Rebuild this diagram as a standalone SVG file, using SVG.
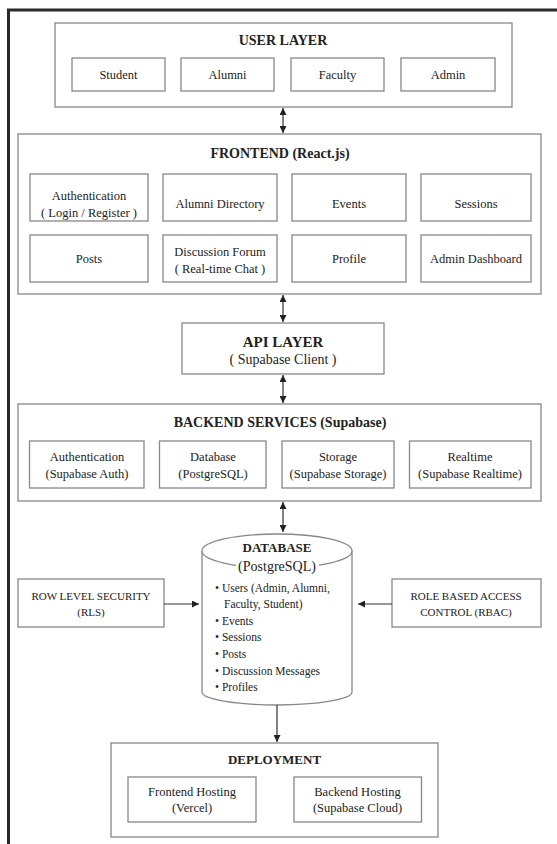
<svg xmlns="http://www.w3.org/2000/svg" width="557" height="844" viewBox="0 0 557 844">
<style>
text{font-family:"Liberation Serif","Times New Roman",serif;fill:#222;text-anchor:middle}
.t{font-weight:bold;font-size:14px}
.l{font-size:12.5px}
.s{font-size:11px}
.b{font-size:11.5px;text-anchor:start}
.box{fill:#fff;stroke:#888;stroke-width:1.3}
.c{stroke:#333;stroke-width:1.2;fill:none}
</style>
<defs>
<marker id="ah" viewBox="0 0 8 8" refX="8" refY="4" markerWidth="7" markerHeight="7" markerUnits="userSpaceOnUse" orient="auto-start-reverse">
<path d="M0,0 L8,4 L0,8 Z" fill="#222"/>
</marker>
</defs>
<rect width="557" height="844" fill="#fff"/>
<rect x="8.5" y="10" width="600" height="900" fill="none" stroke="#2a2a2a" stroke-width="3"/>

<g id="user-layer">
<rect class="box" x="55" y="23" width="457" height="84"/>
<text class="t" x="283" y="45">USER LAYER</text>
<rect class="box" x="72" y="58" width="93" height="33"/><text class="l" x="118.5" y="79">Student</text>
<rect class="box" x="181" y="58" width="93" height="33"/><text class="l" x="227.5" y="79">Alumni</text>
<rect class="box" x="291" y="58" width="93" height="33"/><text class="l" x="337.5" y="79">Faculty</text>
<rect class="box" x="401" y="58" width="94" height="33"/><text class="l" x="448" y="79">Admin</text>
</g>

<g id="frontend">
<rect class="box" x="18" y="134" width="523" height="160"/>
<text class="t" x="280" y="158">FRONTEND (React.js)</text>
<rect class="box" x="30" y="174" width="118" height="47"/>
<text class="l" x="89" y="200">Authentication</text><text class="l" x="89" y="217">( Login / Register )</text>
<rect class="box" x="163" y="174" width="114" height="47"/><text class="l" x="220" y="208">Alumni Directory</text>
<rect class="box" x="292" y="174" width="114" height="47"/><text class="l" x="349" y="208">Events</text>
<rect class="box" x="421" y="174" width="110" height="47"/><text class="l" x="476" y="208">Sessions</text>
<rect class="box" x="30" y="235" width="118" height="47"/><text class="l" x="89" y="263">Posts</text>
<rect class="box" x="163" y="235" width="114" height="47"/>
<text class="l" x="220" y="256">Discussion Forum</text><text class="l" x="220" y="273">( Real-time Chat )</text>
<rect class="box" x="292" y="235" width="114" height="47"/><text class="l" x="349" y="263">Profile</text>
<rect class="box" x="421" y="235" width="110" height="47"/><text class="l" x="476" y="263">Admin Dashboard</text>
</g>

<g id="api-layer">
<rect class="box" x="182" y="323" width="202" height="51"/>
<text x="283" y="347" style="font-weight:bold;font-size:15px">API LAYER</text>
<text x="283" y="364" style="font-size:14px">( Supabase Client )</text>
</g>

<g id="backend">
<rect class="box" x="18" y="404" width="523" height="97"/>
<text class="t" x="280" y="427">BACKEND SERVICES (Supabase)</text>
<rect class="box" x="29.5" y="441" width="114.5" height="47"/>
<text class="l" x="87" y="461">Authentication</text><text class="l" x="87" y="478">(Supabase Auth)</text>
<rect class="box" x="159.5" y="441" width="106.5" height="47"/>
<text class="l" x="213" y="461">Database</text><text class="l" x="213" y="478">(PostgreSQL)</text>
<rect class="box" x="282" y="441" width="112" height="47"/>
<text class="l" x="338" y="461">Storage</text><text class="l" x="338" y="478">(Supabase Storage)</text>
<rect class="box" x="409.5" y="441" width="121.5" height="47"/>
<text class="l" x="470" y="461">Realtime</text><text class="l" x="470" y="478">(Supabase Realtime)</text>
</g>

<g id="database">
<path class="box" d="M202,551 L202,692 A75,13 0 0 0 352,692 L352,551"/>
<ellipse class="box" cx="277" cy="551" rx="75" ry="17"/>
<rect x="236" y="558" width="83" height="16" fill="#fff"/>
<text x="277" y="552" style="font-weight:bold;font-size:13px">DATABASE</text>
<text x="277" y="571" style="font-size:14px">(PostgreSQL)</text>
<text class="b" x="215" y="592">• Users (Admin, Alumni,</text>
<text class="b" x="224" y="608">Faculty, Student)</text>
<text class="b" x="215" y="625">• Events</text>
<text class="b" x="215" y="641">• Sessions</text>
<text class="b" x="215" y="658">• Posts</text>
<text class="b" x="215" y="675">• Discussion Messages</text>
<text class="b" x="215" y="691">• Profiles</text>
</g>

<g id="rls">
<rect class="box" x="18" y="579" width="146" height="48"/>
<text class="s" x="91" y="600">ROW LEVEL SECURITY</text>
<text class="s" x="91" y="616">(RLS)</text>
</g>

<g id="rbac">
<rect class="box" x="392" y="579" width="149" height="48"/>
<text class="s" x="466" y="600">ROLE BASED ACCESS</text>
<text class="s" x="466" y="616">CONTROL (RBAC)</text>
</g>

<g id="deployment">
<rect class="box" x="111" y="743" width="327" height="94"/>
<text x="274.5" y="764" style="font-weight:bold;font-size:13px">DEPLOYMENT</text>
<rect class="box" x="128" y="777" width="128" height="45"/>
<text class="l" x="192" y="796">Frontend Hosting</text><text class="l" x="192" y="812">(Vercel)</text>
<rect class="box" x="294" y="777" width="127.5" height="45"/>
<text class="l" x="357.5" y="796">Backend Hosting</text><text class="l" x="357.5" y="812">(Supabase Cloud)</text>
</g>

<g id="connectors">
<line class="c" x1="283" y1="108" x2="283" y2="133" marker-start="url(#ah)" marker-end="url(#ah)"/>
<line class="c" x1="283" y1="295" x2="283" y2="322" marker-start="url(#ah)" marker-end="url(#ah)"/>
<line class="c" x1="283" y1="375" x2="283" y2="403" marker-start="url(#ah)" marker-end="url(#ah)"/>
<line class="c" x1="283" y1="502" x2="283" y2="532" marker-start="url(#ah)" marker-end="url(#ah)"/>
<line class="c" x1="164" y1="604" x2="199" y2="604" marker-end="url(#ah)"/>
<line class="c" x1="392" y1="604" x2="358" y2="604" marker-end="url(#ah)"/>
<line class="c" x1="277" y1="705" x2="277" y2="742" marker-end="url(#ah)"/>
</g>
</svg>
